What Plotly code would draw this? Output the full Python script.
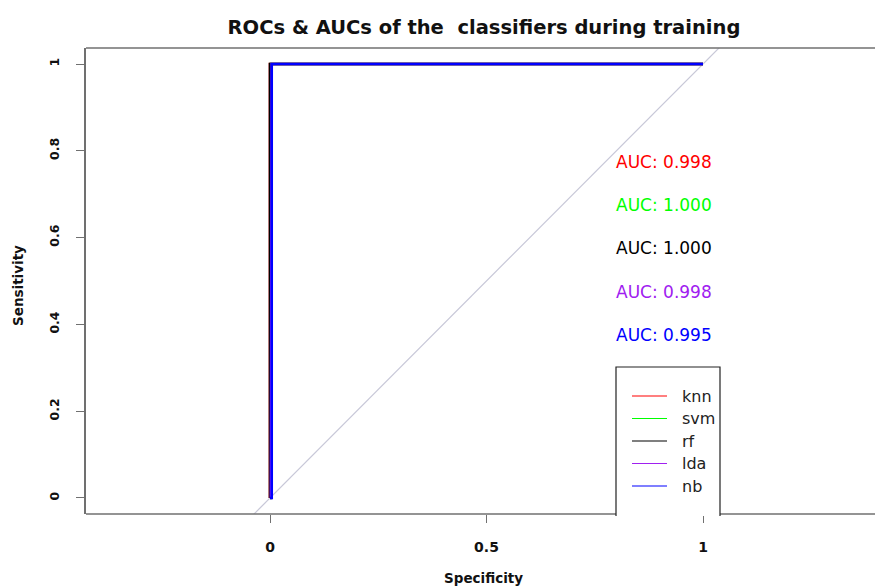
import plotly.graph_objects as go

# ---- data -------------------------------------------------------------
classifiers = ["knn", "svm", "rf", "lda", "nb"]
line_colors = ["#FF0000", "#00FF00", "#000000", "#A020F0", "#0000FF"]
auc_values = [0.998, 1.000, 1.000, 0.998, 0.995]

# ROC curves (x = specificity axis as plotted, y = sensitivity)
roc_x = {
    "knn": [0.000, 0.000, 0.000, 0.004, 1.000],
    "svm": [0.000, 0.002, 0.002, 1.000],
    "rf":  [0.000, 0.000, 0.002, 1.000],
    "lda": [0.000, 0.002, 0.004, 1.000],
    "nb":  [0.000, 0.004, 0.004, 1.000],
}
roc_y = {
    "knn": [0.000, 0.500, 1.000, 1.000, 1.000],
    "svm": [0.000, 0.000, 1.000, 1.000],
    "rf":  [0.000, 1.000, 1.000, 1.000],
    "lda": [0.000, 0.000, 1.000, 1.000],
    "nb":  [0.000, 0.000, 1.000, 1.000],
}
x_ticks = [0, 0.5, 1]
x_tick_labels = ["0", "0.5", "1"]
y_ticks = [0, 0.2, 0.4, 0.6, 0.8, 1]
y_tick_labels = ["0", "0.2", "0.4", "0.6", "0.8", "1"]

# ---- geometry ---------------------------------------------------------
W, H = 875, 586
L, T, B, R = 86, 48, 514, 0    # plot-area edges / right margin in pixels
PW, PH = W - L - R, B - T
XPX = 433.0                     # pixels per unit on x
X_RANGE = [(L - 270) / XPX, (W - R - 270) / XPX]
Y_RANGE = [-0.0369, 1.0369]
FRAME = "#707070"


def px_x(px):
    return (px - L) / PW


def px_y(py):
    return (B - py) / PH


fig = go.Figure()

# chance diagonal
fig.add_trace(go.Scatter(x=[-0.5, 1.5], y=[-0.5, 1.5], mode="lines",
                         line=dict(color="#C8C8D8", width=1.2),
                         hoverinfo="skip", showlegend=False))

for name, col in zip(classifiers, line_colors):
    fig.add_trace(go.Scatter(x=roc_x[name], y=roc_y[name], mode="lines",
                             name=name, line=dict(color=col, width=2.6),
                             showlegend=False))

annotations = []
shapes = []

# top and bottom frame lines (the box runs off the right edge of the page)
for yy in (0, 1):
    shapes.append(dict(type="line", xref="paper", yref="paper", layer="above",
                       x0=0, x1=1, y0=yy, y1=yy,
                       line=dict(color=FRAME, width=1.5)))

# AUC labels
auc_label_y = [0.775, 0.675, 0.575, 0.475, 0.375]
for val, col, yy in zip(auc_values, line_colors, auc_label_y):
    annotations.append(dict(x=0.794, y=yy, xref="x", yref="y",
                            text=f"AUC: {val:.3f}", showarrow=False,
                            xanchor="left", yanchor="middle",
                            font=dict(family="DejaVu Sans", size=17, color=col)))

# legend box
bx0, bx1, by0, by1 = 616, 720, 367, 516
shapes.append(dict(type="rect", xref="paper", yref="paper",
                   x0=px_x(bx0), x1=px_x(bx1), y0=px_y(by1), y1=px_y(by0),
                   fillcolor="white", line=dict(width=0), layer="above"))
shapes.append(dict(type="path", xref="paper", yref="paper", layer="above",
                   path=(f"M {px_x(bx0)} {px_y(by1)} L {px_x(bx0)} {px_y(by0)} "
                         f"L {px_x(bx1)} {px_y(by0)} L {px_x(bx1)} {px_y(by1)}"),
                   line=dict(color="#222222", width=1.2)))
legend_rows = [396, 418.5, 441, 463.5, 486]
for name, col, ry in zip(classifiers, line_colors, legend_rows):
    shapes.append(dict(type="line", xref="paper", yref="paper", layer="above",
                       x0=px_x(632), x1=px_x(667), y0=px_y(ry), y1=px_y(ry),
                       line=dict(color=col, width=1.2)))
    annotations.append(dict(x=px_x(680), y=px_y(ry), xref="paper", yref="paper",
                            text=name, showarrow=False, xanchor="left",
                            yanchor="middle",
                            font=dict(family="DejaVu Sans", size=16, color="#222222")))

# axis titles
annotations.append(dict(x=px_x(484), y=px_y(578), xref="paper", yref="paper",
                        text="<b>Specificity</b>", showarrow=False,
                        xanchor="center", yanchor="middle",
                        font=dict(family="DejaVu Sans", size=13.5, color="#111111")))
annotations.append(dict(x=px_x(18), y=px_y(286), xref="paper", yref="paper",
                        text="<b>Sensitivity</b>", showarrow=False, textangle=-90,
                        xanchor="center", yanchor="middle",
                        font=dict(family="DejaVu Sans", size=13.5, color="#111111")))

fig.update_layout(
    width=W, height=H,
    margin=dict(l=L, r=R, t=T, b=H - B, pad=0),
    paper_bgcolor="white", plot_bgcolor="white",
    title=dict(text="<b>ROCs &amp; AUCs of the \u00a0classifiers during training</b>",
               x=484 / W, xref="container", xanchor="center",
               y=1 - 27 / H, yref="container", yanchor="middle",
               font=dict(family="DejaVu Sans", size=19.5, color="#111111")),
    xaxis=dict(range=X_RANGE, tickvals=x_ticks, ticktext=x_tick_labels,
               showgrid=False, zeroline=False, showline=False,
               ticks="outside", ticklen=8, tickwidth=1.2, tickcolor=FRAME,
               ticklabelstandoff=12,
               tickfont=dict(family="DejaVu Sans", size=14, color="#111111",
                             weight="bold")),
    yaxis=dict(range=Y_RANGE, tickvals=y_ticks, ticktext=y_tick_labels,
               showgrid=False, zeroline=False, showline=True, mirror=False,
               linecolor=FRAME, linewidth=1.5,
               ticks="outside", ticklen=8, tickwidth=1.2, tickcolor=FRAME,
               tickangle=-90, ticklabelstandoff=12,
               tickfont=dict(family="DejaVu Sans", size=12.5, color="#111111",
                             weight="bold")),
    annotations=annotations,
    shapes=shapes,
    showlegend=False,
)

fig.write_html("out.html")
